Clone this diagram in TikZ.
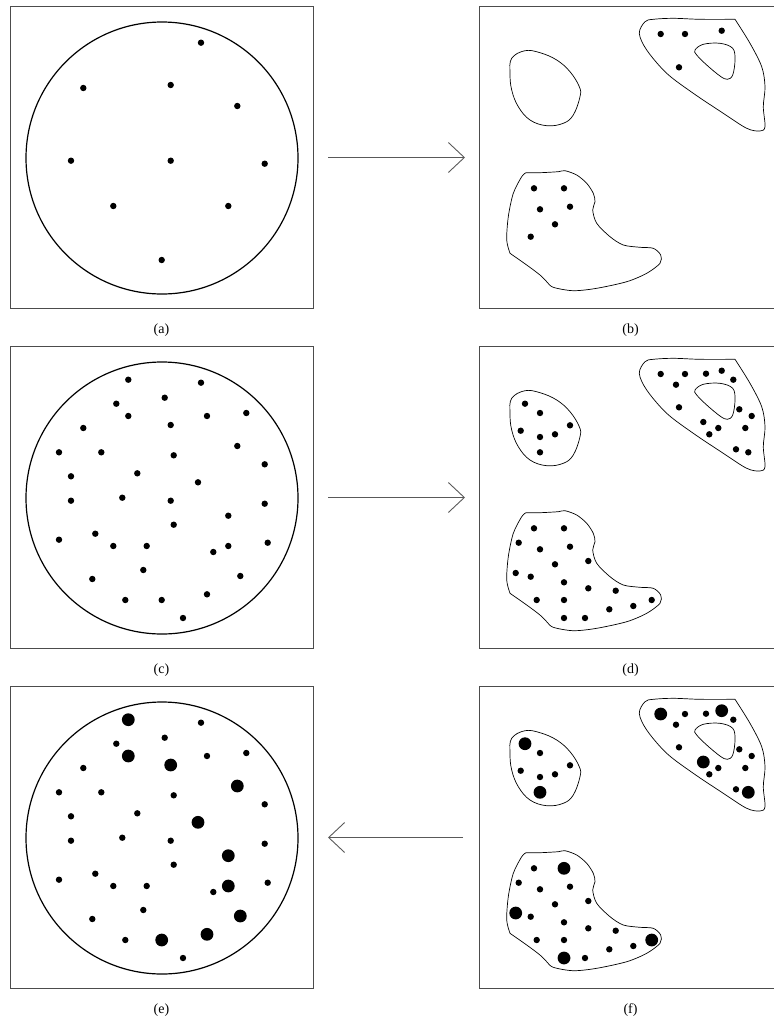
\documentclass[tikz,border=0pt]{standalone}
\usepackage{fontspec}
\setmainfont{Liberation Serif}
\usetikzlibrary{arrows.meta,positioning}

\tikzset{
  panel/.style={draw=black!70, line width=0.9pt, minimum width=303pt, minimum height=302pt, inner sep=0pt, outer sep=0pt},
  caption/.style={font=\fontsize{14}{16}\selectfont, inner sep=0pt},
  flow/.style={draw=black!65, line width=0.9pt, -{Straight Barb[length=16pt,width=30pt]}},
  dish/.style={line width=1.2pt},
  region/.style={line width=0.7pt},
}

% dot positions, measured inside one row of panels
\def\seedA{201/42.7, 83.3/88, 170.7/85, 237.3/106, 71/160.7, 170.7/160.7, 264.7/163.7, 113.3/206, 228.3/206, 161.7/260}
\def\seedC{128.3/39.7, 164.7/57.7, 116.3/63.7, 128.3/76, 207/76, 246.3/73, 59/112.3, 101.3/112.3, 173.7/115.3, 264.7/124.3, 71/136.3, 137.3/133.3, 198/142.3, 122.3/157.7, 228.3/175.7, 173.7/184.7, 59/199.7, 95.3/193.7, 146.7/206, 213.3/212, 267.7/202.7, 143.3/230, 92.3/239, 240.3/236, 125.3/260, 207/254.3, 183/278}
\def\seedE{128.3/39.7, 128.3/76, 170.7/85, 237.3/106, 198/142.3, 228.3/175.7, 228.3/206, 240.3/236, 207/254.3, 161.7/260}
\def\seedB{660.7/34, 685/34, 721.7/30.7, 679/67.3, 534/188.3, 564/188.3, 540/209.3, 570/206.7, 555/224.3, 530.7/236.7}
\def\seedD{525/63.7, 540/73, 520.7/90.7, 540/97, 555/94.3, 570/85.3, 540/112.3, 706/33.7, 733.3/39.7, 676/44.7, 739.3/69.3, 751.7/76, 703.3/82, 718.3/88, 709.3/94.3, 745.3/88, 736/109.3, 748.3/112.3, 518.7/202.7, 588.3/221, 515.7/233, 564/242.3, 588.3/248.3, 615.7/250.7, 536.7/260, 564/260, 609.3/269.3, 633.3/266, 651.7/260, 564/278, 585/278}
\def\seedF{525/63.7, 540/112.3, 660.7/34, 721.7/30.7, 703.3/82, 748.3/112.3, 564/188.3, 515.7/233, 651.7/260, 564/278}

% #1 = list of points, #2 = radius
\newcommand{\spots}[2]{
  \foreach \px/\py in #1 {
    \fill (\px,\py) circle[radius=#2];
  }
}

% the three regions of a right-hand panel
\newcommand{\regions}{
  \draw[region] plot[smooth cycle, tension=0.65] coordinates {
    (511.7,58.3) (525,50.7) (540,52.7) (556.7,60) (570,71.7) (579.3,86.7) (580,96.7)
    (573.3,115) (563.3,123.3) (546.7,125.7) (530,120) (518.3,106.7) (511.7,90) (510,73.3)};
  % outer ring, sharp corner top right
  \draw[region] plot[smooth, tension=0.55] coordinates {
    (735,19.3) (750,43.3) (761.7,66.7) (765,86.7) (763.3,106.7) (765,126.7) (760,131)
    (746.7,128.3) (723.3,113.3) (693.3,93.3) (666.7,73.3) (646.7,50) (639.3,33.3)
    (645,21.7) (653.3,19.3) (673.3,18.3) (700,19.3) (735,19.3)} -- cycle;
  \draw[region] plot[smooth cycle, tension=0.6] coordinates {
    (695,50) (703.3,44.3) (720,43.3) (732.7,48.3) (735,60) (732.7,75) (727.3,79.3)
    (720,76) (706.7,65) (696.7,55)};
  % lower region, two sharp corners on the left
  \draw[region] plot[smooth, tension=0.5] coordinates {
    (526,172.7) (540,172.7) (558.3,171.7) (565,170.7) (576.7,175) (586.7,183.3)
    (593.3,193.3) (595,201.7) (592.7,210) (596.7,223.3) (610,236.7) (623.3,245)
    (640,247.3) (653.3,248.3) (660.7,255) (660,263.3) (646.7,273.3) (626.7,281.7)
    (596.7,288.3) (573.3,290.7) (553.3,287.3) (546.7,281.7) (540,275) (526.7,265)
    (510,253.3)}
    -- plot[smooth, tension=0.5] coordinates {
    (510,253.3) (506.7,240) (508.3,216.7) (513.3,193.3) (521.7,176.7) (526,172.7)} -- cycle;
}

\begin{document}
\begin{tikzpicture}[x=1pt, y=-1pt]
\useasboundingbox (0,0) rectangle (774,1026);

% panels
\node[panel] (pa) at (161.5,157.5) {};
\node[panel] (pb) at (630.5,157.5) {};
\node[panel] (pc) at (161.5,497.5) {};
\node[panel] (pd) at (630.5,497.5) {};
\node[panel] (pe) at (161.5,837.5) {};
\node[panel] (pf) at (630.5,837.5) {};

% captions
\node[caption, below=15pt of pa] (ca) {(a)};
\node[caption, below=15pt of pb] (cb) {(b)};
\node[caption, below=15pt of pc] (cc) {(c)};
\node[caption, below=15pt of pd] (cd) {(d)};
\node[caption, below=15pt of pe] (ce) {(e)};
\node[caption, below=15pt of pf] (cf) {(f)};

% arrows between panels
\draw[flow, shorten <=15pt, shorten >=14pt] (pa) -- (pb);
\draw[flow, shorten <=15pt, shorten >=14pt] (pc) -- (pd);
\draw[flow, shorten <=16pt, shorten >=15pt] (pf) -- (pe);

% ── row 1 ──
\draw[dish] (162,158) circle[radius=136pt];
\spots{\seedA}{3.2pt}
\regions
\spots{\seedB}{3.2pt}

% ── row 2 ──
\begin{scope}[shift={(0,340)}]
  \draw[dish] (162,158) circle[radius=136pt];
  \spots{\seedA}{3.2pt}
  \spots{\seedC}{3.2pt}
  \regions
  \spots{\seedB}{3.2pt}
  \spots{\seedD}{3.2pt}
\end{scope}

% ── row 3 ──
\begin{scope}[shift={(0,680)}]
  \draw[dish] (162,158) circle[radius=136pt];
  \spots{\seedA}{3.2pt}
  \spots{\seedC}{3.2pt}
  \spots{\seedE}{6.4pt}
  \regions
  \spots{\seedB}{3.2pt}
  \spots{\seedD}{3.2pt}
  \spots{\seedF}{6.4pt}
\end{scope}

\end{tikzpicture}
\end{document}
